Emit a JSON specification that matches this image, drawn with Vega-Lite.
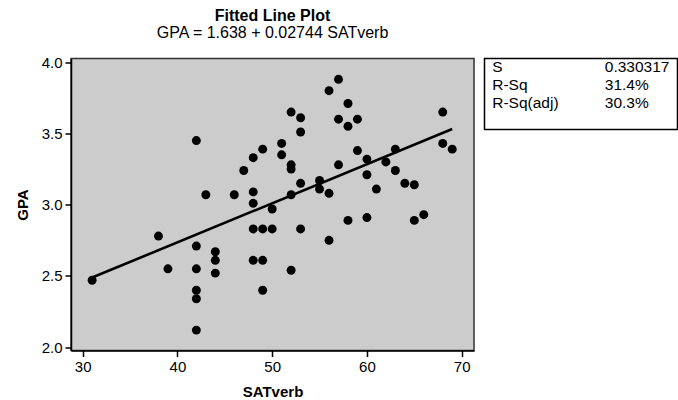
{
  "$schema": "https://vega.github.io/schema/vega-lite/v6.json",
  "background": "white",
  "padding": {"left": 14, "top": 6.5, "right": 0, "bottom": 0},
  "bounds": "flush",
  "spacing": 10.5,
  "config": {
    "font": "Liberation Sans",
    "axis": {
      "grid": false,
      "labelFont": "Liberation Sans",
      "labelFontSize": 15,
      "labelColor": "black",
      "titleFont": "Liberation Sans",
      "titleFontSize": 15,
      "titleFontWeight": "bold",
      "titleColor": "black",
      "domainColor": "black",
      "domainWidth": 1.5,
      "tickColor": "black",
      "tickWidth": 1.5,
      "tickSize": 6,
      "labelPadding": 3
    }
  },
  "datasets": {
    "points": [
      {"SATverb": 31, "GPA": 2.47},
      {"SATverb": 38, "GPA": 2.78},
      {"SATverb": 39, "GPA": 2.55},
      {"SATverb": 42, "GPA": 3.45},
      {"SATverb": 42, "GPA": 2.71},
      {"SATverb": 42, "GPA": 2.55},
      {"SATverb": 42, "GPA": 2.40},
      {"SATverb": 42, "GPA": 2.34},
      {"SATverb": 42, "GPA": 2.12},
      {"SATverb": 43, "GPA": 3.07},
      {"SATverb": 44, "GPA": 2.67},
      {"SATverb": 44, "GPA": 2.61},
      {"SATverb": 44, "GPA": 2.52},
      {"SATverb": 46, "GPA": 3.07},
      {"SATverb": 47, "GPA": 3.24},
      {"SATverb": 48, "GPA": 3.33},
      {"SATverb": 48, "GPA": 3.09},
      {"SATverb": 48, "GPA": 3.01},
      {"SATverb": 48, "GPA": 2.83},
      {"SATverb": 48, "GPA": 2.61},
      {"SATverb": 49, "GPA": 3.39},
      {"SATverb": 49, "GPA": 2.83},
      {"SATverb": 49, "GPA": 2.61},
      {"SATverb": 49, "GPA": 2.40},
      {"SATverb": 50, "GPA": 2.97},
      {"SATverb": 50, "GPA": 2.83},
      {"SATverb": 51, "GPA": 3.43},
      {"SATverb": 51, "GPA": 3.35},
      {"SATverb": 52, "GPA": 3.65},
      {"SATverb": 52, "GPA": 3.28},
      {"SATverb": 52, "GPA": 3.25},
      {"SATverb": 52, "GPA": 3.07},
      {"SATverb": 52, "GPA": 2.54},
      {"SATverb": 53, "GPA": 3.61},
      {"SATverb": 53, "GPA": 3.51},
      {"SATverb": 53, "GPA": 3.15},
      {"SATverb": 53, "GPA": 2.83},
      {"SATverb": 55, "GPA": 3.17},
      {"SATverb": 55, "GPA": 3.11},
      {"SATverb": 56, "GPA": 3.80},
      {"SATverb": 56, "GPA": 3.08},
      {"SATverb": 56, "GPA": 2.75},
      {"SATverb": 57, "GPA": 3.88},
      {"SATverb": 57, "GPA": 3.60},
      {"SATverb": 57, "GPA": 3.28},
      {"SATverb": 58, "GPA": 3.71},
      {"SATverb": 58, "GPA": 3.55},
      {"SATverb": 58, "GPA": 2.89},
      {"SATverb": 59, "GPA": 3.60},
      {"SATverb": 59, "GPA": 3.38},
      {"SATverb": 60, "GPA": 3.32},
      {"SATverb": 60, "GPA": 3.21},
      {"SATverb": 60, "GPA": 2.91},
      {"SATverb": 61, "GPA": 3.11},
      {"SATverb": 62, "GPA": 3.30},
      {"SATverb": 63, "GPA": 3.39},
      {"SATverb": 63, "GPA": 3.24},
      {"SATverb": 64, "GPA": 3.15},
      {"SATverb": 65, "GPA": 3.14},
      {"SATverb": 65, "GPA": 2.89},
      {"SATverb": 66, "GPA": 2.93},
      {"SATverb": 68, "GPA": 3.65},
      {"SATverb": 68, "GPA": 3.43},
      {"SATverb": 69, "GPA": 3.39}
    ],
    "fit": [
      {"SATverb": 31, "GPA": 2.489},
      {"SATverb": 69, "GPA": 3.531}
    ],
    "stats": [
      {"row": 1, "col": "name", "text": "S"},
      {"row": 1, "col": "value", "text": "0.330317"},
      {"row": 2, "col": "name", "text": "R-Sq"},
      {"row": 2, "col": "value", "text": "31.4%"},
      {"row": 3, "col": "name", "text": "R-Sq(adj)"},
      {"row": 3, "col": "value", "text": "30.3%"}
    ]
  },
  "hconcat": [
    {
      "width": 403,
      "height": 292,
      "title": {
        "text": "Fitted Line Plot",
        "subtitle": "GPA = 1.638 + 0.02744 SATverb",
        "font": "Liberation Sans",
        "subtitleFont": "Liberation Sans",
        "fontSize": 16,
        "subtitleFontSize": 16,
        "fontWeight": "bold",
        "color": "black",
        "subtitleColor": "black",
        "subtitlePadding": 1,
        "offset": 14.5,
        "anchor": "middle"
      },
      "view": {"fill": "#cccccc", "stroke": "#333333", "strokeWidth": 1.5},
      "layer": [
        {
          "data": {"name": "points"},
          "mark": {"type": "circle", "size": 80, "color": "black", "opacity": 1},
          "encoding": {
            "x": {
              "field": "SATverb",
              "type": "quantitative",
              "scale": {"domain": [28.77, 71.3], "nice": false, "zero": false},
              "axis": {"values": [30, 40, 50, 60, 70], "title": "SATverb", "titlePadding": 10}
            },
            "y": {
              "field": "GPA",
              "type": "quantitative",
              "scale": {"domain": [1.977, 4.026], "nice": false, "zero": false},
              "axis": {"values": [2.0, 2.5, 3.0, 3.5, 4.0], "format": ".1f", "title": "GPA", "titlePadding": 11}
            }
          }
        },
        {
          "data": {"name": "fit"},
          "mark": {"type": "line", "color": "black", "strokeWidth": 2.6},
          "encoding": {
            "x": {"field": "SATverb", "type": "quantitative"},
            "y": {"field": "GPA", "type": "quantitative"}
          }
        }
      ]
    },
    {
      "width": 193,
      "height": 71,
      "data": {"name": "stats"},
      "view": {"fill": "white", "stroke": "black", "strokeWidth": 1.5},
      "mark": {"type": "text", "align": "left", "baseline": "alphabetic", "fontSize": 15.5, "font": "Liberation Sans", "color": "black"},
      "encoding": {
        "x": {"field": "col", "type": "nominal", "axis": null,
              "scale": {"type": "point", "domain": ["name", "value"], "padding": 0.357, "align": 0.096}},
        "y": {"field": "row", "type": "ordinal", "axis": null,
              "scale": {"type": "point", "domain": [1, 2, 3], "padding": 1.66, "align": 0.39}},
        "text": {"field": "text"}
      }
    }
  ]
}
